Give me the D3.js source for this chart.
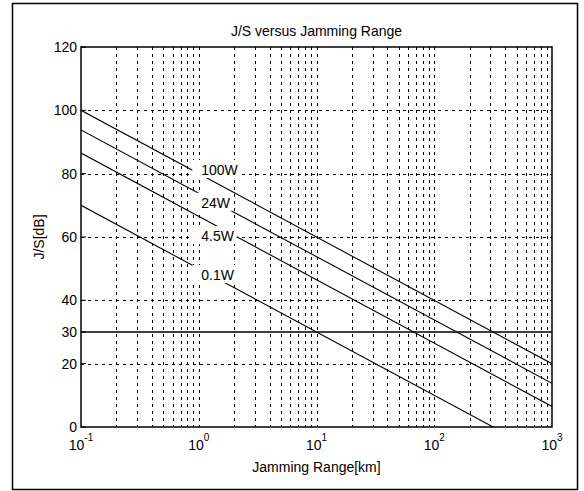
<!DOCTYPE html>
<html>
<head>
<meta charset="utf-8">
<script src="https://cdn.jsdelivr.net/npm/d3@7"></script>
<style>
  body { margin: 0; background: #fff; }
  svg { display: block; }
  text { font-family: "Liberation Sans Narrow", "Liberation Sans", Arial, sans-serif; fill: #000; }
</style>
</head>
<body>
<svg width="584" height="491"></svg>
<script>
// data
const rangeKm = [0.1, 1000]
const seriesNames = ["100W", "24W", "4.5W", "0.1W"]
const jsAt01km = [100, 93.8, 86.5, 70]      // J/S [dB] at 0.1 km
const jsAt1000km = [20, 13.8, 6.5, -10]     // J/S [dB] at 1000 km
const labelRange = 1.05
const labelJs = [79.6, 69.2, 58.7, 46.4]
const refLevel = 30
const yTicks = [0, 20, 30, 40, 60, 80, 100, 120]
const yGrid = [20, 40, 60, 80, 100]
const xDecades = [-1, 0, 1, 2, 3]

const svg = d3.select("svg"),
    width = +svg.attr("width"),
    height = +svg.attr("height");

const margin = {left: 81, right: 584 - 552, top: 47, bottom: 491 - 427}

const x = d3.scaleLog().domain([0.1, 1000]).range([margin.left, width - margin.right])
const y = d3.scaleLinear().domain([0, 120]).range([height - margin.bottom, margin.top])

// outer frame
svg.append("rect")
    .attr("x", 12.5).attr("y", 3.5)
    .attr("width", 565).attr("height", 486)
    .attr("fill", "none").attr("stroke", "#000").attr("stroke-width", 1.5)

svg.append("clipPath").attr("id", "plotclip")
    .append("rect")
    .attr("x", x.range()[0]).attr("y", y.range()[1])
    .attr("width", x.range()[1] - x.range()[0])
    .attr("height", y.range()[0] - y.range()[1])

////////////////////////
// grid
const grid = svg.append("g").attr("class", "grid")
    .attr("stroke", "#000").attr("stroke-width", 1)
    .attr("stroke-dasharray", "3,4")

const xGridVals = []
xDecades.forEach(e => {
    for (let m = 1; m <= 9; m++) {
        const v = m * Math.pow(10, e)
        if (v > 0.1 && v < 1000) xGridVals.push(v)
    }
})

grid.selectAll(".vgrid")
    .data(xGridVals)
    .enter()
    .append("line")
    .attr("class", "vgrid")
    .attr("x1", d => Math.round(x(d)) + 0.5).attr("x2", d => Math.round(x(d)) + 0.5)
    .attr("y1", y.range()[1]).attr("y2", y.range()[0])

grid.selectAll(".hgrid")
    .data(yGrid)
    .enter()
    .append("line")
    .attr("class", "hgrid")
    .attr("x1", x.range()[0]).attr("x2", x.range()[1])
    .attr("y1", d => Math.round(y(d)) + 0.5).attr("y2", d => Math.round(y(d)) + 0.5)

// reference line at 30 dB
svg.append("line")
    .attr("x1", x.range()[0]).attr("x2", x.range()[1])
    .attr("y1", y(refLevel)).attr("y2", y(refLevel))
    .attr("stroke", "#000").attr("stroke-width", 1.5)

////////////////////////
// J/S lines
const series = seriesNames.map((name, i) => ({
    name: name,
    points: [[rangeKm[0], jsAt01km[i]], [rangeKm[1], jsAt1000km[i]]],
    label: [labelRange, labelJs[i]]
}))

const line = d3.line().x(d => x(d[0])).y(d => y(d[1]))

svg.append("g").attr("clip-path", "url(#plotclip)")
    .selectAll(".jsline")
    .data(series)
    .enter()
    .append("path")
    .attr("class", "jsline")
    .attr("d", d => line(d.points))
    .attr("fill", "none")
    .attr("stroke", "#000")
    .attr("stroke-width", 1.1)

// labels sit on white boxes that break the lines
const labels = svg.append("g").selectAll(".lbl")
    .data(series)
    .enter()
    .append("g")
    .attr("class", "lbl")

labels.append("text")
    .attr("x", d => x(d.label[0]))
    .attr("y", d => y(d.label[1]))
    .attr("font-size", 14)
    .text(d => d.name)

labels.each(function () {
    const g = d3.select(this)
    const b = g.select("text").node().getBBox()
    g.insert("rect", "text")
        .attr("x", b.x - 9).attr("y", b.y - 2)
        .attr("width", b.width + 11).attr("height", b.height + 2)
        .attr("fill", "#fff")
})

////////////////////////
// axes box and ticks
const axes = svg.append("g")
axes.append("rect")
    .attr("x", x.range()[0]).attr("y", y.range()[1])
    .attr("width", x.range()[1] - x.range()[0])
    .attr("height", y.range()[0] - y.range()[1])
    .attr("fill", "none").attr("stroke", "#000").attr("stroke-width", 1.5)

axes.selectAll(".ytick")
    .data(yTicks)
    .enter()
    .append("line")
    .attr("x1", x.range()[0]).attr("x2", x.range()[0] + 5)
    .attr("y1", d => y(d)).attr("y2", d => y(d))
    .attr("stroke", "#000")

axes.selectAll(".ylab")
    .data(yTicks)
    .enter()
    .append("text")
    .attr("x", x.range()[0] - 4)
    .attr("y", d => y(d))
    .attr("dy", "0.36em")
    .attr("text-anchor", "end")
    .attr("font-size", 14)
    .text(d => d)

const xl = axes.selectAll(".xlab")
    .data(xDecades)
    .enter()
    .append("text")
    .attr("x", d => x(Math.pow(10, d)))
    .attr("y", 450)
    .attr("text-anchor", "middle")
    .attr("font-size", 14)

xl.append("tspan").text("10")
xl.append("tspan")
    .attr("dy", -9)
    .attr("font-size", 10)
    .text(d => d)

// titles
svg.append("text")
    .attr("x", (x.range()[0] + x.range()[1]) / 2)
    .attr("y", 36)
    .attr("text-anchor", "middle")
    .attr("font-size", 14)
    .text("J/S versus Jamming Range")

svg.append("text")
    .attr("x", (x.range()[0] + x.range()[1]) / 2)
    .attr("y", 472)
    .attr("text-anchor", "middle")
    .attr("font-size", 14)
    .text("Jamming Range[km]")

svg.append("text")
    .attr("transform", `translate(44, ${(y.range()[0] + y.range()[1]) / 2}) rotate(-90)`)
    .attr("text-anchor", "middle")
    .attr("font-size", 14)
    .text("J/S[dB]")
</script>
</body>
</html>
